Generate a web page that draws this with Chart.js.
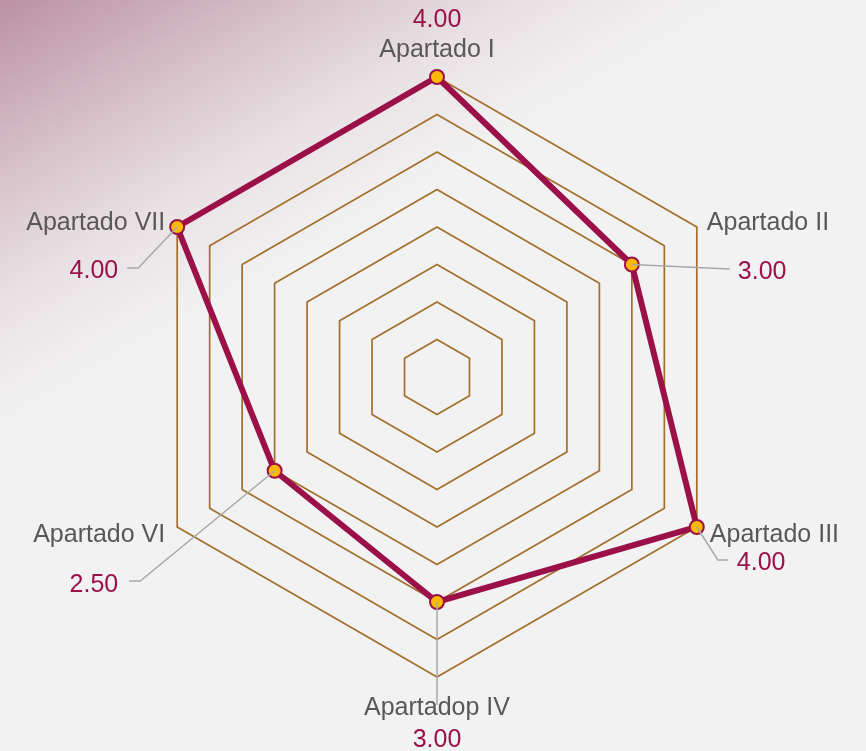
<!DOCTYPE html>
<html>
<head>
<meta charset="utf-8">
<script src="https://cdn.jsdelivr.net/npm/chart.js@4"></script>
<style>
  html, body { margin: 0; padding: 0; }
  body {
    width: 866px; height: 751px; overflow: hidden;
    background: linear-gradient(150deg, #bb92a3 0px, #d6c1c9 150px, #e9e1e4 260px, #f2f2f2 370px);
  }
  #wrap { position: relative; width: 866px; height: 751px; }
</style>
</head>
<body>
<div id="wrap"><canvas id="chart"></canvas></div>
<script>
/* global Chart */
const categories = ["Apartado I", "Apartado II", "Apartado III", "Apartadop IV", "Apartado VI", "Apartado VII"];
const scores = [4, 3, 4, 3, 2.5, 4];
const scaleMin = 0;
const scaleMax = 4;
const scaleStep = 0.5;

const CRIMSON = "#9c104a";
const GREY_TXT = "#585858";

// label / value placement relative to the outer ring vertex of each axis
const placing = [
  { align: "center", lab: [0, -20], val: [0, -50], leader: null },
  { align: "left", lab: [10, 3], val: [41, 52], leader: [[33, 42]] },
  { align: "left", lab: [13, 15], val: [40, 43], leader: [[21, 33], [31, 33]] },
  { align: "center", lab: [0, 38], val: [0, 70], leader: [[0, 28]] },
  { align: "right", lab: [-12, 15], val: [-59, 65], leader: [[-37, 54], [-48, 54]] },
  { align: "right", lab: [-12, 3], val: [-59, 51], leader: [[-39, 41], [-50, 41]] }
];

const labelPlugin = {
  id: "labelPlugin",
  afterDatasetsDraw(chart) {
    const ctx = chart.ctx;
    const scale = chart.scales.r;
    ctx.save();
    categories.forEach((name, i) => {
      const v = scale.getPointPosition(i, scale.getDistanceFromCenterForValue(scaleMax));
      const p = scale.getPointPosition(i, scale.getDistanceFromCenterForValue(scores[i]));
      const cfg = placing[i];
      if (cfg.leader) {
        ctx.beginPath();
        ctx.strokeStyle = "#a8a8a8";
        ctx.lineWidth = 1.5;
        ctx.moveTo(p.x, p.y);
        cfg.leader.forEach(([dx, dy]) => ctx.lineTo(v.x + dx, v.y + dy));
        ctx.stroke();
      }
      ctx.font = "25px 'Liberation Sans', Arial, sans-serif";
      ctx.textAlign = cfg.align;
      ctx.textBaseline = "alphabetic";
      ctx.fillStyle = GREY_TXT;
      ctx.fillText(name, v.x + cfg.lab[0], v.y + cfg.lab[1]);
      ctx.fillStyle = CRIMSON;
      ctx.fillText(scores[i].toFixed(2), v.x + cfg.val[0], v.y + cfg.val[1]);
    });
    ctx.restore();
  }
};

new Chart(document.getElementById("chart"), {
  type: "radar",
  data: {
    labels: categories,
    datasets: [{
      data: scores,
      borderColor: CRIMSON,
      borderWidth: 6,
      backgroundColor: "transparent",
      fill: false,
      tension: 0,
      pointRadius: 7,
      pointBorderWidth: 2,
      pointBorderColor: CRIMSON,
      pointBackgroundColor: "#fbb900",
      clip: false
    }]
  },
  options: {
    responsive: true,
    maintainAspectRatio: false,
    animation: false,
    layout: { padding: { left: 137, right: 129, top: 77, bottom: 74 } },
    plugins: { legend: { display: false }, tooltip: { enabled: false } },
    scales: {
      r: {
        min: scaleMin,
        max: scaleMax,
        ticks: { stepSize: scaleStep, display: false },
        grid: { color: "#a36f2c", lineWidth: 1.7 },
        angleLines: { display: false },
        pointLabels: { display: false }
      }
    }
  },
  plugins: [labelPlugin]
});
</script>
</body>
</html>
